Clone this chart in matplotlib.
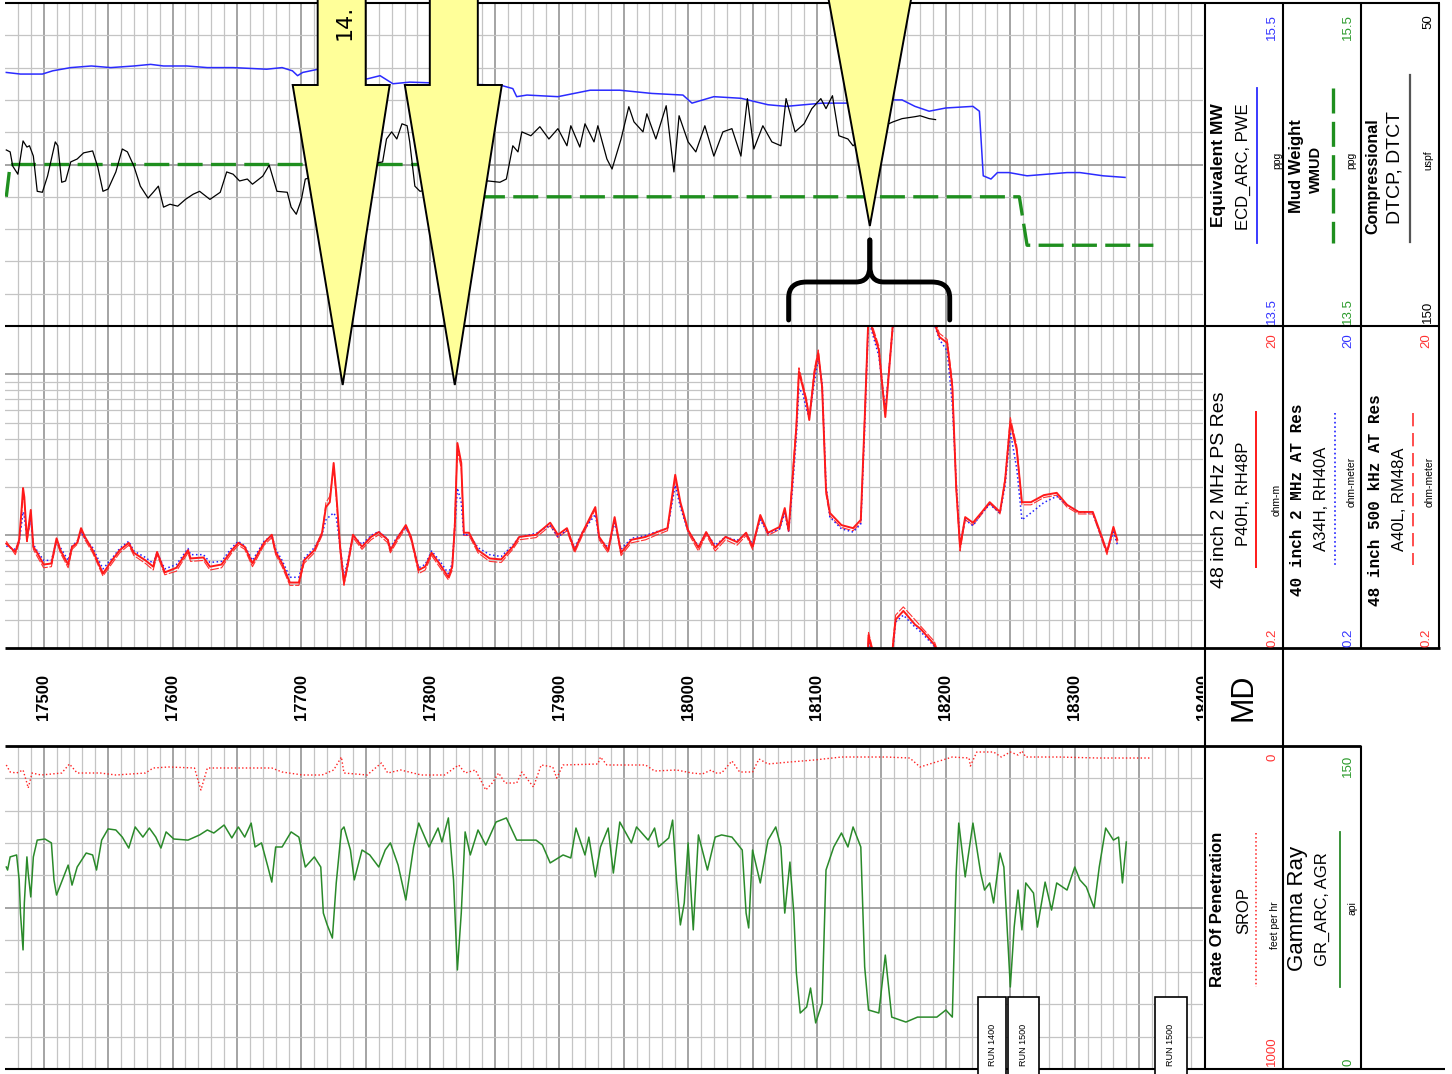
"""Rotated well-log strip: ECD / MW / DTCP, resistivity, MD, ROP + GR."""
import numpy as np
import matplotlib
matplotlib.use("Agg")
import matplotlib.pyplot as plt
from matplotlib.patches import Polygon, PathPatch, Rectangle
from matplotlib.path import Path

W, H = 1452, 1074
SANS = ["Liberation Sans", "DejaVu Sans"]
MONO = ["Liberation Mono", "DejaVu Sans Mono"]

LIGHT = "#c4c4c4"
HEAVY = "#8c8c8c"
YELLOW = "#ffff99"

depth_range = (17470, 18399.5)
depth_labels = [17500, 17600, 17700, 17800, 17900, 18000, 18100, 18200, 18300, 18400]

# ---- top track: ECD (ppg) ----
ecd_depth = [17471, 17482, 17499, 17507, 17521, 17537, 17552, 17570, 17583, 17593,
             17611, 17627, 17647, 17673, 17685, 17693, 17697, 17701, 17713, 17732,
             17751, 17761, 17767, 17771, 17784, 17822, 17855, 17864, 17867, 17875,
             17899, 17924, 17947, 17972, 17996, 18003, 18020, 18041, 18062, 18076,
             18104, 18124, 18144, 18159, 18166, 18176, 18187, 18200, 18221, 18226,
             18229, 18235, 18240, 18249, 18263, 18294, 18304, 18322, 18339]
ecd_ppg = [15.07, 15.06, 15.06, 15.08, 15.10, 15.11, 15.10, 15.11, 15.12, 15.11,
           15.11, 15.10, 15.10, 15.09, 15.10, 15.08, 15.05, 15.07, 15.09, 15.06,
           15.03, 15.05, 15.02, 15.00, 15.01, 15.00, 14.99, 14.97, 14.92, 14.93,
           14.92, 14.96, 14.96, 14.94, 14.93, 14.88, 14.92, 14.91, 14.87, 14.86,
           14.88, 14.88, 14.89, 14.90, 14.90, 14.86, 14.83, 14.85, 14.86, 14.83,
           14.43, 14.41, 14.45, 14.45, 14.43, 14.45, 14.45, 14.43, 14.42]

# ---- top track: mud weight (ppg) ----
mw_depth = [17471, 17474, 17831, 17832, 18257, 18263, 18361]
mw_ppg = [14.30, 14.50, 14.50, 14.30, 14.30, 14.00, 14.00]

# ---- top track: compressional slowness (us/ft) ----
dt_depth = [17471, 17474, 17476, 17480, 17484, 17487, 17489, 17492, 17495, 17499,
            17503, 17509, 17511, 17514, 17517, 17521, 17526, 17531, 17538, 17542,
            17546, 17550, 17556, 17561, 17565, 17570, 17575, 17581, 17585, 17589,
            17593, 17598, 17604, 17610, 17616, 17621, 17629, 17637, 17642, 17647,
            17652, 17658, 17662, 17670, 17675, 17681, 17689, 17692, 17696, 17700,
            17703, 17730, 17763, 17766, 17770, 17774, 17778, 17782, 17784, 17788,
            17792, 17819, 17845, 17854, 17859, 17864, 17868, 17871, 17878, 17885,
            17892, 17899, 17906, 17909, 17916, 17920, 17927, 17930, 17937, 17941,
            17948, 17954, 17958, 17965, 17968, 17975, 17983, 17989, 17993, 18000,
            18006, 18013, 18020, 18027, 18034, 18041, 18046, 18051, 18058, 18065,
            18072, 18076, 18083, 18090, 18096, 18103, 18107, 18112, 18117, 18124,
            18128, 18141, 18159, 18166, 18176, 18180, 18187, 18192]
dt_usft = [95.5, 96.1, 100.5, 103.0, 92.7, 94.6, 94.2, 97.4, 108.3, 108.6,
           103.6, 93.0, 94.2, 105.5, 105.1, 99.2, 98.3, 96.4, 95.8, 100.8,
           108.3, 107.6, 102.3, 95.2, 96.1, 100.5, 106.7, 110.4, 108.6, 106.7,
           113.2, 112.3, 112.9, 110.8, 109.2, 108.3, 110.8, 108.6, 102.3, 103.0,
           105.1, 104.5, 106.1, 103.6, 100.2, 108.3, 108.6, 113.2, 115.4, 110.8,
           104.5, 101.4, 99.2, 92.1, 89.9, 92.1, 87.4, 88.0, 93.0, 106.7,
           108.3, 106.0, 105.1, 105.5, 104.5, 94.2, 96.1, 89.9, 91.1, 88.3,
           92.1, 88.9, 94.2, 88.0, 94.6, 87.4, 93.0, 88.0, 98.3, 101.4,
           92.1, 82.1, 86.8, 89.9, 84.3, 92.1, 81.8, 102.3, 84.9, 93.0,
           96.1, 88.0, 97.4, 89.9, 88.9, 97.4, 79.6, 95.2, 88.0, 93.0,
           94.2, 79.6, 89.9, 87.4, 82.7, 79.6, 82.7, 78.7, 91.1, 92.1,
           94.2, 90.0, 86.8, 85.8, 85.2, 84.9, 85.8, 86.1]

# ---- resistivity track (ohm-m) ----
res_depth = [17471, 17478, 17481, 17483, 17484, 17485, 17487, 17490, 17492, 17495,
             17500, 17506, 17510, 17513, 17519, 17522, 17526, 17529, 17532, 17538,
             17546, 17553, 17559, 17566, 17570, 17579, 17585, 17588, 17594, 17603,
             17612, 17614, 17624, 17629, 17638, 17646, 17651, 17656, 17662, 17671,
             17677, 17680, 17685, 17691, 17698, 17702, 17710, 17716, 17719, 17722,
             17725, 17727, 17730, 17733, 17736, 17740, 17747, 17754, 17760, 17767,
             17769, 17775, 17781, 17785, 17791, 17796, 17801, 17807, 17814, 17817,
             17819, 17821, 17824, 17826, 17830, 17837, 17846, 17855, 17864, 17869,
             17882, 17893, 17899, 17906, 17912, 17918, 17928, 17931, 17938, 17943,
             17948, 17956, 17967, 17976, 17984, 17990, 17994, 18000, 18008, 18014,
             18021, 18029, 18038, 18045, 18050, 18056, 18062, 18071, 18075, 18078,
             18081, 18084, 18086, 18089, 18092, 18094, 18098, 18101, 18104, 18107,
             18110, 18119, 18128, 18134, 18137, 18140, 18143, 18148, 18153, 18156,
             18159, 18161, 18167, 18176, 18181, 18191, 18195, 18201, 18205, 18208,
             18211, 18215, 18221, 18228, 18234, 18242, 18246, 18250, 18255, 18259,
             18266, 18276, 18286, 18294, 18303, 18314, 18321, 18325, 18330, 18333]
p40h = [0.89, 0.79, 0.94, 1.50, 1.97, 1.73, 0.94, 1.44, 0.85, 0.78,
        0.66, 0.67, 0.96, 0.81, 0.66, 0.85, 0.90, 1.11, 0.98, 0.81,
        0.58, 0.70, 0.81, 0.90, 0.78, 0.70, 0.64, 0.79, 0.59, 0.63,
        0.81, 0.72, 0.73, 0.64, 0.66, 0.81, 0.90, 0.85, 0.67, 0.90,
        1.01, 0.79, 0.67, 0.51, 0.51, 0.70, 0.81, 1.04, 1.50, 1.61,
        2.82, 1.84, 0.85, 0.51, 0.67, 1.01, 0.85, 0.98, 1.05, 0.94,
        0.81, 0.98, 1.16, 0.98, 0.61, 0.64, 0.78, 0.67, 0.55, 0.64,
        1.13, 3.75, 2.82, 1.04, 1.04, 0.81, 0.72, 0.71, 0.85, 0.98,
        1.01, 1.20, 1.01, 1.11, 0.81, 1.04, 1.50, 0.98, 0.81, 1.30,
        0.78, 0.94, 0.98, 1.05, 1.11, 2.38, 1.61, 1.08, 0.84, 1.05,
        0.84, 0.98, 0.91, 1.04, 0.85, 1.34, 1.04, 1.13, 1.48, 1.08,
        2.21, 4.72, 10.4, 8.36, 6.65, 5.21, 10.2, 13.6, 8.36, 1.92,
        1.38, 1.16, 1.11, 1.25, 5.21, 24.0, 19.0, 14.2, 5.44, 10.7,
        21.0, 30.0, 34.0, 28.0, 26.0, 21.0, 17.1, 15.7, 8.36, 2.00,
        0.85, 1.30, 1.20, 1.40, 1.61, 1.40, 2.21, 5.07, 3.40, 1.61,
        1.61, 1.78, 1.84, 1.55, 1.40, 1.40, 0.98, 0.79, 1.13, 0.94]
a34h = [0.86, 0.82, 0.92, 1.20, 1.40, 1.30, 0.98, 1.25, 0.88, 0.80,
        0.70, 0.70, 0.92, 0.84, 0.70, 0.86, 0.92, 1.05, 0.96, 0.84,
        0.62, 0.72, 0.83, 0.92, 0.80, 0.73, 0.67, 0.78, 0.62, 0.66,
        0.83, 0.76, 0.76, 0.68, 0.69, 0.84, 0.92, 0.86, 0.70, 0.92,
        1.00, 0.82, 0.70, 0.55, 0.55, 0.72, 0.84, 1.02, 1.25, 1.32,
        1.38, 1.30, 0.86, 0.55, 0.70, 1.00, 0.88, 1.00, 1.06, 0.95,
        0.84, 1.00, 1.12, 0.97, 0.63, 0.66, 0.80, 0.70, 0.58, 0.67,
        1.10, 1.97, 1.60, 1.00, 1.02, 0.84, 0.76, 0.74, 0.87, 0.98,
        1.03, 1.16, 0.98, 1.08, 0.84, 1.05, 1.35, 0.96, 0.84, 1.20,
        0.82, 0.96, 1.00, 1.06, 1.10, 2.05, 1.50, 1.06, 0.86, 1.04,
        0.87, 0.98, 0.93, 1.03, 0.88, 1.25, 1.03, 1.10, 1.38, 1.06,
        1.95, 4.10, 8.20, 7.60, 6.00, 5.40, 9.00, 12.6, 8.80, 2.05,
        1.30, 1.10, 1.05, 1.18, 4.60, 22.0, 18.0, 13.0, 6.00, 11.0,
        20.0, 29.0, 32.0, 27.0, 25.0, 20.5, 16.5, 14.0, 6.50, 2.20,
        0.90, 1.25, 1.15, 1.38, 1.56, 1.38, 2.05, 4.40, 2.60, 1.25,
        1.38, 1.60, 1.75, 1.55, 1.40, 1.38, 0.96, 0.80, 1.05, 0.88]
a40l = [0.92, 0.76, 0.90, 1.40, 1.80, 1.60, 0.90, 1.30, 0.82, 0.74,
        0.63, 0.64, 0.92, 0.78, 0.63, 0.82, 0.88, 1.06, 0.94, 0.78,
        0.56, 0.67, 0.78, 0.87, 0.75, 0.67, 0.61, 0.76, 0.57, 0.60,
        0.78, 0.69, 0.70, 0.61, 0.63, 0.78, 0.87, 0.82, 0.64, 0.87,
        0.97, 0.76, 0.64, 0.49, 0.49, 0.67, 0.78, 1.00, 1.60, 1.75,
        2.60, 1.70, 0.80, 0.49, 0.64, 0.97, 0.82, 0.94, 1.01, 0.90,
        0.78, 0.94, 1.12, 0.94, 0.58, 0.61, 0.75, 0.64, 0.53, 0.61,
        1.30, 3.40, 2.60, 1.00, 1.00, 0.78, 0.69, 0.68, 0.82, 0.94,
        0.97, 1.15, 0.97, 1.07, 0.78, 1.00, 1.45, 0.94, 0.78, 1.25,
        0.75, 0.90, 0.94, 1.01, 1.07, 2.25, 1.55, 1.04, 0.80, 1.01,
        0.80, 0.94, 0.87, 1.00, 0.82, 1.30, 1.00, 1.09, 1.42, 1.04,
        2.40, 5.00, 11.0, 8.80, 7.00, 5.50, 10.8, 14.2, 8.00, 1.80,
        1.32, 1.12, 1.07, 1.20, 5.60, 25.0, 20.0, 15.0, 5.80, 11.2,
        22.0, 32.0, 36.0, 30.0, 27.0, 22.0, 18.0, 16.5, 9.00, 1.90,
        0.80, 1.25, 1.16, 1.36, 1.58, 1.36, 2.30, 5.40, 3.60, 1.55,
        1.55, 1.72, 1.78, 1.50, 1.36, 1.36, 0.94, 0.76, 1.10, 0.90]

# ---- bottom track: gamma ray (api) ----
gr_depth = [17471, 17472, 17474, 17479, 17481, 17482, 17484, 17485, 17487, 17488,
            17490, 17492, 17495, 17501, 17506, 17508, 17510, 17513, 17519, 17522,
            17526, 17533, 17538, 17541, 17545, 17550, 17556, 17561, 17566, 17571,
            17577, 17582, 17587, 17591, 17595, 17601, 17612, 17621, 17627, 17632,
            17640, 17646, 17651, 17656, 17661, 17664, 17669, 17674, 17677, 17680,
            17685, 17692, 17698, 17703, 17710, 17715, 17717, 17720, 17724, 17727,
            17731, 17733, 17738, 17741, 17747, 17753, 17760, 17765, 17769, 17775,
            17781, 17787, 17791, 17799, 17806, 17809, 17814, 17818, 17821, 17824,
            17827, 17831, 17837, 17843, 17851, 17859, 17867, 17882, 17887, 17893,
            17903, 17909, 17913, 17920, 17923, 17928, 17932, 17938, 17942, 17947,
            17956, 17960, 17969, 17974, 17977, 17985, 17988, 17991, 17994, 17997,
            18000, 18004, 18008, 18015, 18021, 18026, 18034, 18042, 18045, 18047,
            18050, 18056, 18062, 18068, 18072, 18075, 18079, 18082, 18084, 18087,
            18092, 18095, 18099, 18104, 18107, 18113, 18119, 18124, 18128, 18134,
            18137, 18140, 18148, 18153, 18158, 18169, 18178, 18193, 18200, 18205,
            18208, 18210, 18215, 18221, 18227, 18230, 18234, 18237, 18242, 18245,
            18248, 18250, 18253, 18256, 18259, 18262, 18268, 18271, 18277, 18282,
            18286, 18294, 18300, 18304, 18309, 18315, 18319, 18324, 18330, 18334,
            18337, 18340]
gr_api = [93.8, 92.4, 98.5, 99.4, 87.8, 72.4, 55.3, 77.1, 98.5, 91.0,
          79.9, 98.5, 106.3, 106.8, 105.0, 87.8, 80.8, 85.4, 94.7, 85.4,
          93.8, 100.3, 99.4, 92.4, 106.3, 111.5, 111.0, 107.7, 102.6, 112.4,
          107.7, 111.9, 107.7, 102.6, 110.1, 106.8, 106.3, 108.7, 111.0, 109.6,
          113.3, 107.3, 112.4, 107.7, 114.2, 103.1, 105.0, 93.8, 86.8, 103.1,
          103.1, 110.1, 107.7, 93.8, 98.5, 93.8, 72.4, 66.9, 60.8, 86.4,
          111.0, 112.4, 101.7, 87.8, 101.7, 99.4, 93.8, 101.7, 105.0, 94.7,
          78.5, 103.1, 114.2, 103.1, 111.9, 105.4, 116.6, 87.8, 46.0, 72.4,
          110.1, 99.4, 111.0, 104.0, 114.7, 116.6, 106.3, 106.3, 104.0, 95.7,
          99.4, 98.0, 111.9, 99.4, 107.7, 89.2, 103.1, 111.9, 91.0, 114.7,
          105.0, 112.4, 106.3, 111.9, 103.1, 107.3, 115.6, 87.8, 66.9, 77.1,
          105.0, 64.6, 108.7, 92.4, 107.7, 108.7, 107.7, 101.7, 72.4, 65.5,
          101.7, 86.4, 106.3, 112.4, 103.1, 72.4, 96.1, 72.4, 44.6, 26.0,
          28.8, 37.6, 21.4, 30.6, 92.4, 103.1, 109.6, 103.1, 112.4, 103.1,
          47.4, 27.4, 26.0, 52.9, 24.1, 21.8, 24.1, 24.1, 27.4, 24.1,
          91.0, 114.2, 89.2, 114.2, 91.0, 83.1, 86.4, 77.1, 100.3, 93.8,
          59.9, 38.1, 65.9, 83.1, 64.6, 86.4, 81.7, 65.9, 86.8, 73.8,
          86.4, 83.1, 93.8, 87.8, 84.5, 74.8, 93.8, 111.9, 106.3, 107.7,
          86.4, 105.4]

# ---- bottom track: rate of penetration (ft/hr) ----
rop_depth = [17471, 17474, 17479, 17484, 17487, 17488, 17491, 17498, 17514, 17520,
             17526, 17544, 17556, 17579, 17585, 17597, 17617, 17622, 17627, 17644,
             17677, 17685, 17701, 17716, 17725, 17731, 17733, 17751, 17762, 17767,
             17777, 17793, 17811, 17822, 17827, 17835, 17843, 17848, 17853, 17858,
             17867, 17871, 17880, 17886, 17895, 17898, 17903, 17930, 17932, 17937,
             17967, 17974, 17991, 18003, 18011, 18018, 18021, 18026, 18034, 18040,
             18050, 18055, 18062, 18079, 18098, 18119, 18154, 18172, 18180, 18190,
             18205, 18218, 18219, 18224, 18237, 18243, 18250, 18256, 18259, 18262,
             18288, 18318, 18333, 18359]
rop_fph = [58.8, 80.5, 83.6, 74.3, 114.6, 130.0, 83.6, 89.8, 83.6, 55.7,
           83.6, 83.6, 89.8, 83.6, 68.1, 65.0, 68.1, 136.2, 68.1, 68.1,
           68.1, 80.5, 89.8, 89.8, 74.3, 34.1, 83.6, 89.8, 52.6, 83.6,
           74.3, 89.8, 89.8, 58.8, 83.6, 74.3, 136.2, 114.6, 83.6, 114.6,
           114.6, 80.5, 126.9, 58.8, 65.0, 99.1, 58.8, 55.7, 34.1, 58.8,
           58.8, 77.4, 74.3, 83.6, 86.7, 74.3, 83.6, 83.6, 46.4, 80.5,
           80.5, 40.2, 55.7, 49.5, 43.3, 34.1, 34.1, 37.2, 65.0, 52.6,
           34.1, 37.2, 61.9, 18.6, 18.6, 34.1, 18.6, 27.9, 15.5, 34.1,
           34.1, 37.2, 37.2, 37.2]

# annotation depths (arrows point at the two thin spikes and the resistive zone)
arrow_depths = [17732, 17819]
wedge_depth = 18141
brace_span = (18078, 18203)
run_boxes = [(18225, 18247, "RUN 1400"), (18248, 18272, "RUN 1500"), (18362, 18387, "RUN 1500")]


def track(top, bottom):
    ax = fig.add_axes([5 / W, 1 - bottom / H, 1198 / W, (bottom - top) / H])
    ax.set_xlim(*depth_range)
    ax.set_xticks([])
    ax.set_yticks([])
    for s in ax.spines.values():
        s.set_visible(False)
    return ax


def depth_grid(ax):
    for d in np.arange(17480, 18400, 10):
        heavy = d % 50 == 0
        ax.axvline(d, color=HEAVY if heavy else LIGHT, lw=1.1 if heavy else 0.9, zorder=0)


def main():
    global fig
    fig = plt.figure(figsize=(W / 100, H / 100), dpi=100)

    # ---------------- top track ----------------
    ax_top = track(3, 326)
    ax_top.set_ylim(13.5, 15.5)
    depth_grid(ax_top)
    for k, v in enumerate(np.linspace(13.5, 15.5, 11)[1:-1]):
        ax_top.axhline(v, color=HEAVY if k == 4 else LIGHT, lw=1.1 if k == 4 else 0.9, zorder=0)
    ax_top.plot(ecd_depth, ecd_ppg, color="#2b2bff", lw=1.1, zorder=3)
    ax_top.plot(mw_depth, mw_ppg, color="#1f8f1f", lw=2.4, dashes=(7.5, 2.5), zorder=3)
    ax_dt = ax_top.twinx()
    ax_dt.set_ylim(150, 50)
    ax_dt.set_yticks([])
    for s in ax_dt.spines.values():
        s.set_visible(False)
    ax_dt.plot(dt_depth, dt_usft, color="black", lw=0.9, zorder=3)

    # ---------------- resistivity track ----------------
    ax_res = track(326, 648)
    ax_res.set_yscale("log")
    ax_res.set_ylim(0.2, 20)
    ax_res.set_yticks([])
    ax_res.minorticks_off()
    depth_grid(ax_res)
    for v in [0.3, 0.4, 0.5, 0.6, 0.7, 0.8, 0.9, 1, 2, 3, 4, 5, 6, 7, 8, 9, 10]:
        heavy = v in (1, 10)
        ax_res.axhline(v, color=HEAVY if heavy else LIGHT, lw=1.1 if heavy else 0.9, zorder=0)
    for vals, kw in [(a40l, dict(color="#ff3030", lw=0.8, dashes=(8, 1.5))),
                     (a34h, dict(color="#2020ff", lw=1.1, ls=":")),
                     (p40h, dict(color="#ff1a1a", lw=1.4))]:
        ax_res.plot(res_depth, vals, zorder=3, **kw)
        # backup (wrap) scale: values above 20 re-enter at the bottom
        ax_res.plot(res_depth, np.array(vals) / 100, zorder=3, **kw)

    # ---------------- depth track ----------------
    ax_dep = track(648, 746)
    ax_dep.set_ylim(0, 1)
    for d in depth_labels:
        ax_dep.text(d, 0.5, str(d), rotation=90, ha="center", va="center",
                    fontsize=12, fontweight="bold", family=SANS, clip_on=True)

    # ---------------- bottom track ----------------
    ax_bot = track(746, 1069)
    ax_bot.set_ylim(0, 150)
    depth_grid(ax_bot)
    for k, v in enumerate(np.linspace(0, 150, 11)[1:-1]):
        ax_bot.axhline(v, color=HEAVY if k == 4 else LIGHT, lw=1.1 if k == 4 else 0.9, zorder=0)
    ax_bot.plot(gr_depth, gr_api, color="#2a8a2a", lw=1.1, zorder=3)
    ax_rop = ax_bot.twinx()
    ax_rop.set_ylim(1000, 0)
    ax_rop.set_yticks([])
    for s in ax_rop.spines.values():
        s.set_visible(False)
    ax_rop.plot(rop_depth, rop_fph, color="#ff2020", lw=1.0, ls=":", zorder=3)

    # ---------------- overlay (pixel coordinates) ----------------
    ov = fig.add_axes([0, 0, 1, 1], zorder=10)
    ov.set_xlim(0, W)
    ov.set_ylim(H, 0)
    ov.axis("off")

    def px(depth):
        return ax_top.transData.transform((depth, 14.5))[0]

    def hline(y, x0, x1, lw=1.5):
        ov.plot([x0, x1], [y, y], color="black", lw=lw, solid_capstyle="butt")

    def vline(x, y0, y1, lw=1.5):
        ov.plot([x, x], [y0, y1], color="black", lw=lw, solid_capstyle="butt")

    hline(3, 5, 1440)
    hline(326, 5, 1440)
    hline(648, 5, 1440, lw=2)
    hline(746, 5, 1361, lw=2)
    hline(1069, 5, 1445)
    vline(1205, 3, 1069)
    vline(1283, 3, 1069)
    vline(1361, 3, 648)
    vline(1361, 746, 1069)
    vline(1439, 3, 648)

    def vtext(x, y, s, size, color="black", family=SANS, weight="normal"):
        ov.text(x, y, s, rotation=90, ha="center", va="center", fontsize=size,
                color=color, family=family, fontweight=weight)

    def sample(x, y0, y1, **kw):
        ov.plot([x, x], [y0, y1], **kw)

    blue, green, red = "#3333ff", "#2a9a2a", "#ff3333"

    # top header
    vtext(1219, 165, "Equivalent MW", 12.5, weight="bold")
    vtext(1243, 167, "ECD_ARC, PWE", 12)
    sample(1257, 88, 243, color="#2b2bff", lw=1.3)
    vtext(1277, 160, "ppg", 7.5)
    vtext(1272, 27, "15.5", 9.5, blue)
    vtext(1272, 311, "13.5", 9.5, blue)

    vtext(1296, 166, "Mud Weight", 12, weight="bold")
    vtext(1316, 169, "WMUD", 10.5, weight="bold")
    sample(1333, 88, 243, color="#1f8f1f", lw=2.4, dashes=(7.5, 2.5))
    vtext(1351, 160, "ppg", 7.5)
    vtext(1348, 27, "15.5", 9.5, green)
    vtext(1348, 311, "13.5", 9.5, green)

    vtext(1373, 176, "Compressional", 11.5, weight="bold")
    vtext(1395, 168, "DTCP, DTCT", 14)
    sample(1410, 75, 242, color="#555555", lw=1.6)
    vtext(1428, 160, "uspf", 7.5)
    vtext(1428, 22, "50", 9.5)
    vtext(1428, 312, "150", 9.5)

    # resistivity header
    vtext(1219, 490, "48 inch 2 MHz PS Res", 14)
    vtext(1243, 494, "P40H, RH48P", 12)
    sample(1256, 412, 567, color="#ff1a1a", lw=1.4)
    vtext(1277, 500, "ohm-m", 7.5)
    vtext(1272, 341, "20", 9.5, red)
    vtext(1272, 638, "0.2", 9.5, red)

    vtext(1297, 500, "40 inch 2 MHz AT Res", 11.5, family=MONO, weight="bold")
    vtext(1321, 499, "A34H, RH40A", 12)
    sample(1335, 413, 567, color="#2020ff", lw=1.2, ls=":")
    vtext(1352, 482, "ohm-meter", 7.5)
    vtext(1348, 341, "20", 9.5, blue)
    vtext(1348, 638, "0.2", 9.5, blue)

    vtext(1375, 500, "48 inch 500 kHz AT Res", 11.5, family=MONO, weight="bold")
    vtext(1399, 499, "A40L, RM48A", 12)
    sample(1413, 413, 565, color="#ff3030", lw=1.2, dashes=(8, 4))
    vtext(1430, 482, "ohm-meter", 7.5)
    vtext(1426, 341, "20", 9.5, red)
    vtext(1426, 638, "0.2", 9.5, red)

    # depth header
    vtext(1243, 697, "MD", 22)

    # bottom header
    vtext(1218, 909, "Rate Of Penetration", 12, weight="bold")
    vtext(1244, 910, "SROP", 12)
    sample(1256, 833, 987, color="#ff2020", lw=1.1, ls=":")
    vtext(1275, 925, "feet per hr", 7.5)
    vtext(1272, 757, "0", 9.5, red)
    vtext(1272, 1051, "1000", 9.5, red)

    vtext(1298, 908, "Gamma Ray", 16)
    vtext(1322, 909, "GR_ARC, AGR", 12)
    sample(1340, 832, 987, color="#2a8a2a", lw=1.3)
    vtext(1353, 908, "api", 7.5)
    vtext(1348, 766, "150", 9.5, green)
    vtext(1348, 1062, "0", 9.5, green)

    # run boxes at bottom of the GR track
    for d0, d1, label in run_boxes:
        x0, x1 = px(d0), px(d1)
        ov.add_patch(Rectangle((x0, 997), x1 - x0, 90, fc="white", ec="black", lw=1.2, zorder=5))
        ov.text((x0 + x1) / 2, 1045, label, rotation=90, ha="center", va="center",
                fontsize=6.5, family=SANS, zorder=6)

    # yellow arrows
    for d in arrow_depths:
        xc = px(d)
        pts = [(xc - 25, -10), (xc + 23, -10), (xc + 23, 85), (xc + 47, 85),
               (xc, 385), (xc - 50, 85), (xc - 25, 85)]
        ov.add_patch(Polygon(pts, closed=True, fc=YELLOW, ec="black", lw=1.4, zorder=20))
    xc = px(arrow_depths[0])
    ov.text(xc + 2, 40, "14.", rotation=90, ha="center", va="bottom", fontsize=16, zorder=21)

    xw = px(wedge_depth)
    ov.add_patch(Polygon([(xw - 42, -5), (xw + 42, -5), (xw, 226)], closed=True,
                         fc=YELLOW, ec="black", lw=1.4, zorder=20))

    # curly brace under the wedge
    L, R = px(brace_span[0]), px(brace_span[1])
    C = xw
    codes = [Path.MOVETO, Path.LINETO, Path.CURVE3, Path.CURVE3, Path.LINETO,
             Path.CURVE3, Path.CURVE3, Path.LINETO]
    for side, s in [(L, 1), (R, -1)]:
        verts = [(side, 320), (side, 298), (side, 282), (side + 18 * s, 282),
                 (C - 14 * s, 282), (C, 282), (C, 266), (C, 240)]
        ov.add_patch(PathPatch(Path(verts, codes), fc="none", ec="black", lw=3.5,
                               capstyle="round", joinstyle="round", zorder=20))

    fig.savefig("out.png", dpi=100)


if __name__ == "__main__":
    main()
